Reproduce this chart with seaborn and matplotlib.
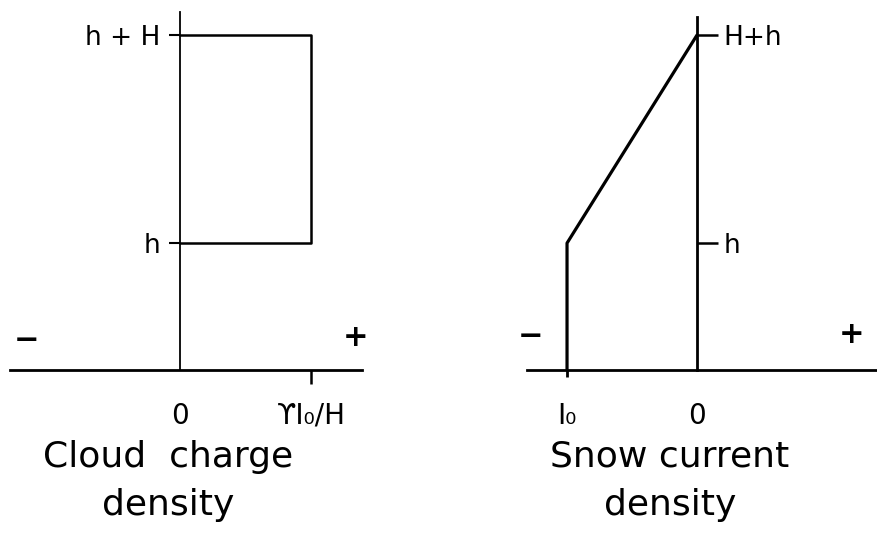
import matplotlib
matplotlib.use("Agg")
import matplotlib.pyplot as plt
import seaborn as sns
import pandas as pd

H = 1.0
h = 0.61

# cloud charge density profile, x in units of ϒI₀/H
cloud_x = [0, 1, 1, 0]
cloud_z = [h, h, h + H, h + H]
cloud_xticks = [0, 1]
cloud_xlabels = ["0", "ϒI₀/H"]
cloud_yticks = [h, h + H]
cloud_ylabels = ["h", "h + H"]

# snow current density profile, x in units of |I₀|
snow_x = [-1, -1, 0]
snow_z = [0, h, h + H]
snow_xticks = [-1, 0]
snow_xlabels = ["I₀", "0"]
snow_yticks = [h, h + H]
snow_ylabels = ["h", "H+h"]

sns.set_theme(style="white")
plt.rcParams['font.family'] = ['DejaVu Sans']
plt.rcParams.update({
    "text.color": "black",
    "xtick.color": "black",
    "ytick.color": "black",
    "axes.edgecolor": "black",
})

W, HT = 877, 535
fig = plt.figure(figsize=(W / 100, HT / 100), dpi=100)

def px_box(x0, x1, ytop, ybot):
    return [x0 / W, 1 - ybot / HT, (x1 - x0) / W, (ybot - ytop) / HT]

# --- Nuvem (painel esquerdo) ---
ax1 = fig.add_axes(px_box(10, 362, 12, 370))
df1 = pd.DataFrame({"x": cloud_x, "z": cloud_z})
sns.lineplot(data=df1, x="x", y="z", sort=False, estimator=None,
             color="black", linewidth=1.8, ax=ax1)
ax1.set_xlim(-1.298, 1.389)
ax1.set_ylim(0, 1.721)
for s in ["top", "right"]:
    ax1.spines[s].set_visible(False)
ax1.spines["left"].set_position(("data", 0))
ax1.spines["left"].set_linewidth(1.3)
ax1.spines["bottom"].set_linewidth(2.0)
ax1.set_xticks(cloud_xticks, cloud_xlabels)
ax1.set_yticks(cloud_yticks, cloud_ylabels)
ax1.tick_params(axis="y", direction="out", length=8, width=1.5, pad=6,
                labelsize=19, left=True)
ax1.tick_params(axis="x", direction="out", length=10, width=1.8, pad=13,
                labelsize=20, bottom=True)
ax1.set_xlabel("")
ax1.set_ylabel("")
ax1.text(-1.17, 0.14, "−", fontsize=22, weight="bold", ha="center", va="center")
ax1.text(1.34, 0.155, "+", fontsize=22, weight="bold", ha="center", va="center")

# --- Neve (painel direito) ---
ax2 = fig.add_axes(px_box(527, 877, 17, 370))
df2 = pd.DataFrame({"x": snow_x, "z": snow_z})
sns.lineplot(data=df2, x="x", y="z", sort=False, estimator=None,
             color="black", linewidth=2.3, ax=ax2)
ax2.set_xlim(-1.308, 1.385)
ax2.set_ylim(0, 1.697)
for s in ["top", "left"]:
    ax2.spines[s].set_visible(False)
ax2.spines["right"].set_visible(True)
ax2.spines["right"].set_position(("data", 0))
ax2.spines["right"].set_linewidth(2.0)
ax2.spines["bottom"].set_linewidth(2.0)
ax2.yaxis.tick_right()
ax2.set_xticks(snow_xticks, snow_xlabels)
ax2.set_yticks(snow_yticks, snow_ylabels)
ax2.tick_params(axis="y", direction="out", length=15, width=1.8, pad=4,
                labelsize=19, right=True)
ax2.tick_params(axis="x", direction="out", length=5, width=2.0, pad=18,
                labelsize=20, bottom=True)
ax2.set_xlabel("")
ax2.set_ylabel("")
ax2.text(-1.28, 0.16, "−", fontsize=22, weight="bold", ha="center", va="center")
ax2.text(1.19, 0.17, "+", fontsize=22, weight="bold", ha="center", va="center")

# sem marca de tick no zero
for ax in (ax1, ax2):
    for tk in ax.xaxis.get_major_ticks():
        if tk.get_loc() == 0:
            tk.tick1line.set_visible(False)

fig.text(168 / W, 1 - 481 / HT, "Cloud  charge\ndensity", ha="center",
         va="center", fontsize=26, linespacing=1.55)
fig.text(670 / W, 1 - 481 / HT, "Snow current\ndensity", ha="center",
         va="center", fontsize=26, linespacing=1.55)

fig.savefig("out.png", dpi=100, facecolor="white")
plt.close()
